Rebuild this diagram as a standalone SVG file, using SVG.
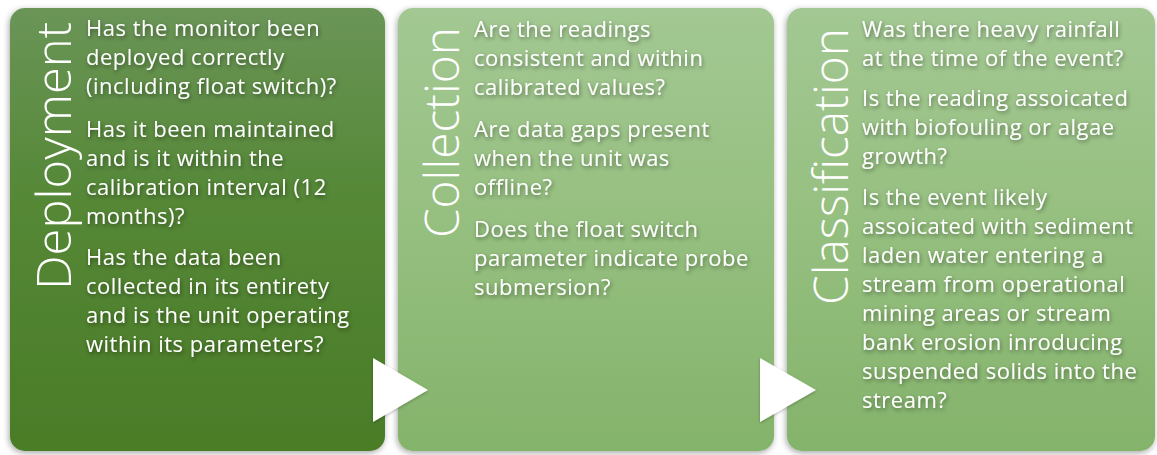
<svg xmlns="http://www.w3.org/2000/svg" width="1157" height="455" viewBox="0 0 1157 455">
<defs>
<linearGradient id="g1" x1="0" y1="0" x2="0" y2="1">
<stop offset="0" stop-color="#6a9557"/>
<stop offset="0.45" stop-color="#548735"/>
<stop offset="1" stop-color="#4b7c27"/>
</linearGradient>
<linearGradient id="g2" x1="0" y1="0" x2="0" y2="1">
<stop offset="0" stop-color="#a3c893"/>
<stop offset="0.5" stop-color="#95bf7f"/>
<stop offset="1" stop-color="#84b36b"/>
</linearGradient>
<filter id="bs" x="-10%" y="-10%" width="120%" height="120%">
<feDropShadow dx="-1" dy="2" stdDeviation="3" flood-color="#000" flood-opacity="0.35"/>
</filter>
<filter id="ts" x="-10%" y="-20%" width="120%" height="150%">
<feDropShadow dx="1" dy="2" stdDeviation="2" flood-color="#000" flood-opacity="0.45"/>
</filter>
<filter id="as" x="-30%" y="-30%" width="160%" height="160%">
<feDropShadow dx="0" dy="1" stdDeviation="1.5" flood-color="#000" flood-opacity="0.3"/>
</filter>
</defs>
<style>
.q{font-family:"Open Sans","Liberation Sans",sans-serif;font-size:22px;letter-spacing:0.5px;fill:#fff;filter:url(#ts)}
.t{font-family:"Open Sans","Liberation Sans",sans-serif;font-weight:300;font-size:48px;fill:#fff}
.arr{fill:#fff;filter:url(#as)}
</style>
<g id="deployment">
<rect x="10" y="8" width="375" height="443" rx="15" fill="url(#g1)" filter="url(#bs)"/>
<text class="t" transform="translate(71,290) rotate(-90)" textLength="268" lengthAdjust="spacingAndGlyphs">Deployment</text>
<text class="q">
<tspan x="86" y="36">Has the monitor been</tspan>
<tspan x="86" y="65">deployed correctly</tspan>
<tspan x="86" y="94">(including float switch)?</tspan>
<tspan x="86" y="137">Has it been maintained</tspan>
<tspan x="86" y="166">and is it within the</tspan>
<tspan x="86" y="195">calibration interval (12</tspan>
<tspan x="86" y="224">months)?</tspan>
<tspan x="86" y="265">Has the data been</tspan>
<tspan x="86" y="294">collected in its entirety</tspan>
<tspan x="86" y="323">and is the unit operating</tspan>
<tspan x="86" y="352">within its parameters?</tspan>
</text>
</g>
<g id="collection">
<rect x="398" y="8" width="376" height="443" rx="15" fill="url(#g2)" filter="url(#bs)"/>
<text class="t" transform="translate(459,238) rotate(-90)" textLength="211" lengthAdjust="spacingAndGlyphs">Collection</text>
<text class="q">
<tspan x="474" y="37">Are the readings</tspan>
<tspan x="474" y="66">consistent and within</tspan>
<tspan x="474" y="95">calibrated values?</tspan>
<tspan x="474" y="137">Are data gaps present</tspan>
<tspan x="474" y="166">when the unit was</tspan>
<tspan x="474" y="195">offline?</tspan>
<tspan x="474" y="237">Does the float switch</tspan>
<tspan x="474" y="266">parameter indicate probe</tspan>
<tspan x="474" y="295">submersion?</tspan>
</text>
</g>
<g id="classification">
<rect x="787" y="8" width="368" height="443" rx="15" fill="url(#g2)" filter="url(#bs)"/>
<text class="t" transform="translate(848,305) rotate(-90)" textLength="277" lengthAdjust="spacingAndGlyphs">Classification</text>
<text class="q">
<tspan x="862" y="37">Was there heavy rainfall</tspan>
<tspan x="862" y="66">at the time of the event?</tspan>
<tspan x="862" y="106">Is the reading assoicated</tspan>
<tspan x="862" y="135">with biofouling or algae</tspan>
<tspan x="862" y="164">growth?</tspan>
<tspan x="862" y="205">Is the event likely</tspan>
<tspan x="862" y="234">assoicated with sediment</tspan>
<tspan x="862" y="263">laden water entering a</tspan>
<tspan x="862" y="292">stream from operational</tspan>
<tspan x="862" y="321">mining areas or stream</tspan>
<tspan x="862" y="350">bank erosion inroducing</tspan>
<tspan x="862" y="379">suspended solids into the</tspan>
<tspan x="862" y="408">stream?</tspan>
</text>
</g>
<g id="connectors">
<polygon class="arr" points="373,358 428,390 373,422"/>
<polygon class="arr" points="760,358 816,390 760,422"/>
</g>
</svg>
